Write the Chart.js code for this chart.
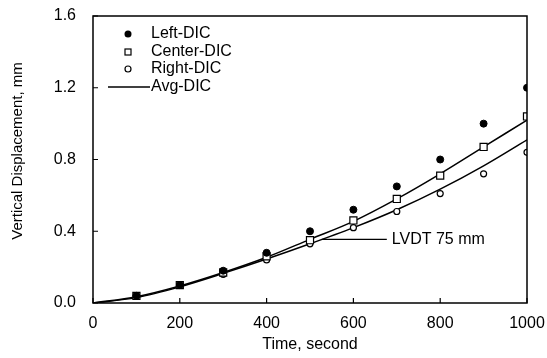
<!DOCTYPE html>
<html>
<head>
<meta charset="utf-8">
<script src="https://cdn.jsdelivr.net/npm/chart.js@4.4.0/dist/chart.umd.min.js"></script>
<style>
html,body{margin:0;padding:0;background:#fff;}
#wrap{width:547px;height:358px;}
</style>
</head>
<body>
<div id="wrap"><canvas id="c" width="547" height="358"></canvas></div>
<script>
// ---- data ----
const timeDIC   = [100, 200, 300, 400, 500, 600, 700, 800, 900, 1000];
const leftDIC   = [0.04, 0.10, 0.18, 0.28, 0.40, 0.52, 0.65, 0.80, 1.00, 1.20];
const centerDIC = [0.04, 0.10, 0.17, 0.26, 0.35, 0.46, 0.58, 0.71, 0.87, 1.04];
const rightDIC  = [0.04, 0.10, 0.16, 0.24, 0.33, 0.42, 0.51, 0.61, 0.72, 0.84];
const timeLine  = [0, 100, 200, 300, 400, 500, 600, 700, 800, 900, 1000];
const avgDIC    = [0, 0.035, 0.095, 0.17, 0.255, 0.355, 0.455, 0.58, 0.72, 0.87, 1.02];
const lvdt75    = [0, 0.03, 0.09, 0.165, 0.245, 0.33, 0.42, 0.52, 0.635, 0.765, 0.91];
const xTicks    = [0, 200, 400, 600, 800, 1000];
const yTicks    = [0.0, 0.4, 0.8, 1.2, 1.6];
const lvdtNote  = {text: 'LVDT 75 mm', fromX: 527, toX: 677, atY: 0.355};

const FONT = '"Liberation Sans", Arial, sans-serif';
const pts = (xs, ys) => xs.map((x, i) => ({x: x, y: ys[i]}));

const boxPlugin = {
  id: 'boxPlugin',
  afterDraw(chart) {
    const {ctx, chartArea: a, scales} = chart;
    const xs = scales.x, ys = scales.y;
    ctx.save();
    ctx.strokeStyle = '#000';
    ctx.lineWidth = 1.5;
    ctx.strokeRect(a.left, a.top, a.right - a.left, a.bottom - a.top);
    // inward ticks
    ctx.lineWidth = 1.2;
    ctx.beginPath();
    xTicks.forEach(v => { const px = xs.getPixelForValue(v); ctx.moveTo(px, a.bottom); ctx.lineTo(px, a.bottom - 5); });
    yTicks.forEach(v => { const py = ys.getPixelForValue(v); ctx.moveTo(a.left, py); ctx.lineTo(a.left + 5, py); });
    ctx.stroke();
    // LVDT annotation
    const ly = ys.getPixelForValue(lvdtNote.atY);
    const lx0 = xs.getPixelForValue(lvdtNote.fromX), lx1 = xs.getPixelForValue(lvdtNote.toX);
    ctx.lineWidth = 1.2;
    ctx.beginPath(); ctx.moveTo(lx0, ly); ctx.lineTo(lx1, ly); ctx.stroke();
    ctx.fillStyle = '#000';
    ctx.font = '16px ' + FONT;
    ctx.textBaseline = 'middle';
    ctx.textAlign = 'left';
    ctx.fillText(lvdtNote.text, lx1 + 5, ly);
    // legend
    const lx = a.left + 35, tx = a.left + 58;
    const rows = [a.top + 18, a.top + 36, a.top + 53, a.top + 71];
    const ds = chart.data.datasets;
    ctx.lineWidth = 1.2;
    ctx.beginPath(); ctx.arc(lx, rows[0], 3.5, 0, Math.PI * 2); ctx.fill();
    ctx.strokeRect(lx - 3, rows[1] - 3, 6, 6);
    ctx.beginPath(); ctx.arc(lx, rows[2], 3, 0, Math.PI * 2); ctx.stroke();
    ctx.lineWidth = 1.5;
    ctx.beginPath(); ctx.moveTo(a.left + 15, rows[3]); ctx.lineTo(tx - 1, rows[3]); ctx.stroke();
    ctx.font = '16px ' + FONT;
    for (let i = 0; i < 4; i++) ctx.fillText(ds[i].label, tx, rows[i]);
    // axis titles
    ctx.textAlign = 'center';
    ctx.font = '16px ' + FONT;
    ctx.fillText('Time, second', (a.left + a.right) / 2, 345);
    ctx.save();
    ctx.translate(18, 151);
    ctx.rotate(-Math.PI / 2);
    ctx.font = '15px ' + FONT;
    ctx.fillText('Vertical Displacement, mm', 0, 0);
    ctx.restore();
    ctx.restore();
  }
};

new Chart(document.getElementById('c'), {
  type: 'scatter',
  data: {
    datasets: [
      {label: 'Left-DIC', data: pts(timeDIC, leftDIC), showLine: false, pointStyle: 'circle', pointRadius: 3.5,
       backgroundColor: '#000', borderColor: '#000', borderWidth: 1, order: 1},
      {label: 'Center-DIC', data: pts(timeDIC, centerDIC), showLine: false, pointStyle: 'rect', pointRadius: 5,
       backgroundColor: '#fff', borderColor: '#000', borderWidth: 1.2, order: 1},
      {label: 'Right-DIC', data: pts(timeDIC, rightDIC), showLine: false, pointStyle: 'circle', pointRadius: 3,
       backgroundColor: '#fff', borderColor: '#000', borderWidth: 1.2, order: 1},
      {label: 'Avg-DIC', data: pts(timeLine, avgDIC), showLine: true, pointRadius: 0, borderColor: '#000',
       borderWidth: 1.5, cubicInterpolationMode: 'monotone', fill: false, order: 2},
      {label: 'LVDT 75 mm', data: pts(timeLine, lvdt75), showLine: true, pointRadius: 0, borderColor: '#000',
       borderWidth: 1.5, cubicInterpolationMode: 'monotone', fill: false, order: 2}
    ]
  },
  options: {
    responsive: false,
    animation: false,
    devicePixelRatio: 1,
    layout: {padding: {left: 0, top: 16, right: 20, bottom: 0}},
    plugins: {legend: {display: false}, tooltip: {enabled: false}},
    scales: {
      x: {
        type: 'linear', min: 0, max: 1000,
        afterBuildTicks: s => { s.ticks = xTicks.map(v => ({value: v})); },
        afterFit: s => { s.height = 55; s.paddingLeft = 0; s.paddingRight = 0; },
        grid: {display: false, drawTicks: false},
        border: {display: false},
        ticks: {padding: 11, maxRotation: 0, color: '#000', font: {family: FONT, size: 16}, callback: v => String(v)}
      },
      y: {
        type: 'linear', min: 0, max: 1.6,
        afterBuildTicks: s => { s.ticks = yTicks.map(v => ({value: v})); },
        afterFit: s => { s.width = 93; s.paddingTop = 0; s.paddingBottom = 0; },
        grid: {display: false, drawTicks: false},
        border: {display: false},
        ticks: {padding: 17, color: '#000', font: {family: FONT, size: 16}, callback: v => Number(v).toFixed(1)}
      }
    }
  },
  plugins: [boxPlugin]
});
</script>
</body>
</html>
